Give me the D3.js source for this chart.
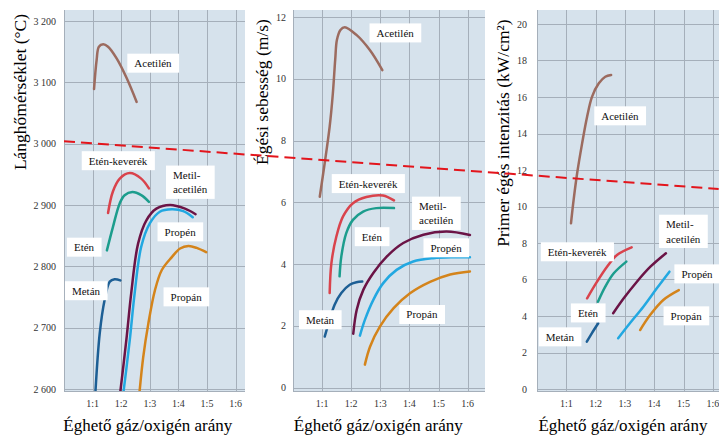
<!DOCTYPE html>
<html>
<head>
<meta charset="utf-8">
<script src="https://cdn.jsdelivr.net/npm/d3@7"></script>
<style>
    body { margin: 0; background: #fff; }
    svg, svg text { font-family: "Liberation Serif", "DejaVu Serif", serif; }
    svg { display: block; }
    .bg { fill: #d6e2ec; }
    .grid line { stroke: #a5afba; stroke-width: 1; }
    .ytick, .xtick { font-size: 10px; fill: #333; }
    .lbl rect { fill: #fff; }
    .lbl text { font-size: 11px; fill: #111; }
    .gas { fill: none; stroke-width: 2.5; stroke-linecap: round; }
</style>
</head>
<body>
<script>
(function(){

    //shared categories
    var gases = ["Acetilén", "Etén-keverék", "Etén", "Metán", "Metil-acetilén", "Propén", "Propán"];
    var gasColors = ["#9c6b5f", "#d9434c", "#1c9d8d", "#1d5f95", "#6b1446", "#22a8e1", "#d4841b"];
    var ratioTicks = [1, 2, 3, 4, 5, 6];
    var ratioLabels = ["1:1", "1:2", "1:3", "1:4", "1:5", "1:6"];

    //panel 1: flame temperature (°C) vs gas/oxygen ratio
    var tempTicks = [2600, 2700, 2800, 2900, 3000, 3100, 3200];
    var tempLabels = ["2 600", "2 700", "2 800", "2 900", "3 000", "3 100", "3 200"];
    var flameTemp = {
        "Acetilén": [[1.05,3089],[1.14,3136],[1.22,3158],[1.37,3162],[1.54,3158],[1.84,3139],[2.19,3107],[2.54,3068]],
        "Etén-keverék": [[1.54,2887],[1.71,2922],[1.95,2943],[2.30,2952],[2.70,2943],[2.97,2927]],
        "Etén": [[1.50,2826],[1.71,2864],[1.95,2903],[2.12,2916],[2.39,2921],[2.70,2916],[2.97,2905]],
        "Metán": [[1.08,2580],[1.25,2691],[1.42,2745],[1.60,2775],[1.77,2779],[1.97,2777]],
        "Metil-acetilén": [[1.93,2580],[2.18,2680],[2.35,2756],[2.59,2837],[2.88,2875],[3.23,2894],[3.71,2900],[4.23,2894],[4.60,2885]],
        "Propén": [[2.04,2580],[2.30,2680],[2.47,2756],[2.70,2832],[3.00,2870],[3.35,2889],[3.77,2893],[4.17,2890],[4.50,2880]],
        "Propán": [[2.61,2580],[2.77,2652],[2.95,2707],[3.18,2761],[3.42,2794],[3.77,2815],[4.06,2829],[4.35,2833],[4.64,2830],[4.97,2823]]
    };

    //panel 2: burning speed (m/s)
    var speedTicks = [0, 2, 4, 6, 8, 10, 12];
    var burnSpeed = {
        "Acetilén": [[0.92,6.18],[1.09,7.27],[1.26,8.45],[1.37,9.53],[1.45,10.61],[1.51,11.26],[1.63,11.58],[1.78,11.67],[2.18,11.42],[2.64,10.93],[3.07,10.28]],
        "Etén-keverék": [[1.26,3.06],[1.32,4.03],[1.49,4.89],[1.72,5.54],[2.06,5.97],[2.52,6.17],[3.09,6.22],[3.47,6.06]],
        "Etén": [[1.60,3.60],[1.66,4.24],[1.83,5.00],[2.06,5.43],[2.41,5.70],[2.86,5.81],[3.47,5.81]],
        "Metán": [[1.09,1.65],[1.26,2.19],[1.43,2.68],[1.66,3.06],[1.95,3.33],[2.18,3.41],[2.38,3.43]],
        "Metil-acetilén": [[2.07,1.74],[2.19,2.52],[2.42,3.17],[2.76,3.71],[3.22,4.24],[3.79,4.68],[4.48,4.95],[5.28,5.05],[6.08,4.94]],
        "Propén": [[2.30,1.68],[2.47,2.19],[2.76,2.84],[3.10,3.38],[3.56,3.81],[4.13,4.08],[4.82,4.19],[5.51,4.22],[6.08,4.22]],
        "Propán": [[2.47,0.74],[2.65,1.33],[2.99,1.98],[3.45,2.56],[4.02,3.05],[4.71,3.42],[5.40,3.66],[6.08,3.76]]
    };

    //panel 3: primary combustion intensity (kW/cm2)
    var intensTicks = [0, 2, 4, 6, 8, 10, 12, 14, 16, 18, 20];
    var intensity = {
        "Acetilén": [[1.16,9.08],[1.25,10.36],[1.37,11.82],[1.54,13.46],[1.71,14.92],[1.88,16.02],[2.11,16.75],[2.33,17.11],[2.53,17.21]],
        "Etén-keverék": [[1.71,4.97],[2.05,5.88],[2.39,6.70],[2.73,7.34],[3.23,7.76]],
        "Etén": [[2.08,4.78],[2.33,5.61],[2.62,6.34],[3.05,6.98]],
        "Metán": [[1.70,2.59],[1.87,3.05],[2.09,3.60]],
        "Metil-acetilén": [[2.60,4.15],[2.96,4.97],[3.41,5.88],[3.87,6.70],[4.40,7.44]],
        "Propén": [[2.77,2.78],[3.17,3.60],[3.63,4.51],[4.09,5.52],[4.52,6.43]],
        "Propán": [[3.52,3.23],[3.86,4.05],[4.31,4.88],[4.84,5.42]]
    };

    var width = 719, height = 437;
    var serif = "'Liberation Serif', 'DejaVu Serif', serif";

    var svg = d3.select("body").append("svg")
        .attr("width", width)
        .attr("height", height);

    //panel frames (pixel layout) and label anchors in data units
    var panels = [
        { id: "p1", left: 64, right: 245, x1: 235.6, yDomain: [2600, 3200], yRange: [389, 21],
          ticks: tempTicks, tickText: tempLabels, series: flameTemp,
          title: "Lánghőmérséklet (°C)", titleX: 26, titleY: 92, tickX: 56,
          labels: [[3.11,3131],[1.89,2972],[0.70,2831],[0.77,2760],[4.44,2936],[4.06,2856],[4.27,2750]] },
        { id: "p2", left: 293, right: 485, x1: 467.6, yDomain: [0, 12], yRange: [387.5, 17],
          ticks: speedTicks, tickText: null, series: burnSpeed,
          title: "Égési sebesség (m/s)", titleX: 268, titleY: 92, tickX: 286,
          labels: [[3.51,11.48],[2.58,6.60],[2.71,4.88],[0.93,2.19],[4.95,5.62],[5.26,4.52],[4.43,2.36]] },
        { id: "p3", left: 537, right: 719, x1: 712.8, yDomain: [0, 20], yRange: [389, 24],
          ticks: intensTicks, tickText: null, series: intensity,
          title: "Primer égés intenzitás (kW/cm²)", titleX: 509, titleY: 133, tickX: 527,
          labels: [[2.83,14.96],[1.37,7.51],[1.74,4.16],[0.78,2.85],[5.02,8.60],[5.46,6.30],[5.09,4.00]] }
    ];

    var top = 10, bottom = 391;
    var scales = [];

    panels.forEach(function(p){
        var x = d3.scaleLinear().domain([0, 6]).range([p.left, p.x1]);
        var y = d3.scaleLinear().domain(p.yDomain).range(p.yRange);
        scales.push({ x: x, y: y });

        var g = svg.append("g").attr("class", "panel " + p.id)
            .attr("font-family", serif);

        g.append("rect")
            .attr("class", "bg")
            .attr("x", p.left).attr("y", top)
            .attr("width", p.right - p.left).attr("height", bottom - top);

        g.append("clipPath").attr("id", "clip-" + p.id)
            .append("rect")
            .attr("x", p.left).attr("y", top)
            .attr("width", p.right - p.left).attr("height", bottom - top);

        //gridlines
        var grid = g.append("g").attr("class", "grid");
        grid.selectAll(".h").data(p.ticks).enter().append("line")
            .attr("x1", p.left).attr("x2", p.right)
            .attr("y1", function(d){ return Math.round(y(d)) + 0.5; })
            .attr("y2", function(d){ return Math.round(y(d)) + 0.5; });
        grid.selectAll(".v").data([0].concat(ratioTicks)).enter().append("line")
            .attr("y1", top).attr("y2", bottom)
            .attr("x1", function(d){ return Math.round(x(d)) + 0.5; })
            .attr("x2", function(d){ return Math.round(x(d)) + 0.5; });
        grid.append("line")
            .attr("x1", p.left).attr("x2", p.right)
            .attr("y1", bottom + 0.5).attr("y2", bottom + 0.5);

        //tick labels
        g.selectAll(".ytick").data(p.ticks).enter().append("text")
            .attr("class", "ytick")
            .attr("x", p.tickX)
            .attr("y", function(d){ return y(d); })
            .attr("dy", "0.35em")
            .attr("text-anchor", "end")
            .text(function(d, i){ return p.tickText ? p.tickText[i] : d; });

        g.selectAll(".xtick").data(ratioTicks).enter().append("text")
            .attr("class", "xtick")
            .attr("x", function(d){ return x(d); })
            .attr("y", 407)
            .attr("text-anchor", "middle")
            .text(function(d, i){ return ratioLabels[i]; });

        //axis titles
        g.append("text")
            .attr("transform", "translate(" + p.titleX + "," + p.titleY + ") rotate(-90)")
            .attr("text-anchor", "middle")
            .style("font-size", "17.5px")
            .text(p.title);

        g.append("text")
            .attr("x", (p.left + p.x1) / 2 - 2)
            .attr("y", 431)
            .attr("text-anchor", "middle")
            .style("font-size", "17px")
            .text("Éghető gáz/oxigén arány");

        //gas curves
        var line = d3.line()
            .x(function(d){ return x(d[0]); })
            .y(function(d){ return y(d[1]); })
            .curve(d3.curveCatmullRom.alpha(0.5));

        var curves = g.append("g").attr("clip-path", "url(#clip-" + p.id + ")");
        gases.forEach(function(name, i){
            curves.append("path")
                .datum(p.series[name])
                .attr("class", "gas")
                .attr("stroke", gasColors[i])
                .attr("d", line);
        });

        //white label boxes
        gases.forEach(function(name, i){
            var pos = p.labels[i];
            var lg = g.append("g").attr("class", "lbl");
            var box = lg.append("rect");
            var t = lg.append("text")
                .attr("x", x(pos[0]))
                .attr("y", y(pos[1]));
            if (name === "Metil-acetilén") {
                t.attr("text-anchor", "start");
                t.append("tspan").attr("x", x(pos[0]) - 18).attr("dy", "-0.35em").text("Metil-");
                t.append("tspan").attr("x", x(pos[0]) - 18).attr("dy", "1.3em").text("acetilén");
            } else {
                t.attr("text-anchor", "middle").attr("dy", "0.35em").text(name);
            }
            var bb = t.node().getBBox();
            box.attr("x", bb.x - 7).attr("y", bb.y - 3.5)
                .attr("width", bb.width + 14).attr("height", bb.height + 7);
        });
    });

    //red dashed reference line across all panels
    var s1 = scales[0], s3 = scales[2];
    svg.append("line")
        .attr("x1", s1.x(0)).attr("y1", s1.y(3004))
        .attr("x2", s3.x(6.2)).attr("y2", s3.y(10.96))
        .attr("stroke", "#e3151c")
        .attr("stroke-width", 2)
        .attr("stroke-dasharray", "11,6");

})();
</script>
</body>
</html>
